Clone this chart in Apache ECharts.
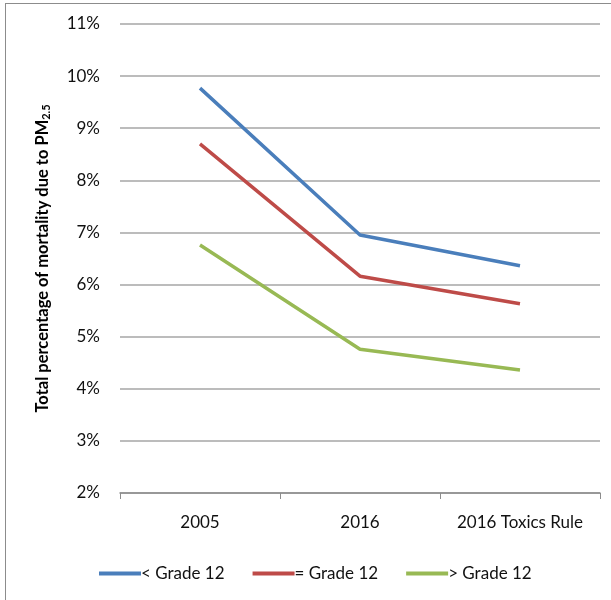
<!DOCTYPE html>
<html>
<head>
<meta charset="utf-8">
<script src="https://cdn.jsdelivr.net/npm/echarts@6/dist/echarts.min.js"></script>
<style>
  body { margin: 0; background: #fff; }
  #frame { position: absolute; left: 5px; top: 3px; width: 620px; height: 620px; border: 1px solid #8c8c8c; box-sizing: border-box; }
  #main { position: absolute; left: 0; top: 0; width: 611px; height: 600px; }
</style>
</head>
<body>
<div id="frame"></div>
<div id="main"></div>
<script>
  var categories = ['2005', '2016', '2016 Toxics Rule'];
  var belowGrade12 = [9.77, 6.95, 6.36];
  var equalGrade12 = [8.70, 6.16, 5.63];
  var aboveGrade12 = [6.76, 4.76, 4.36];
  var seriesNames = ['< Grade 12', '= Grade 12', '> Grade 12'];
  var colors = ['#4A7EBB', '#BE4B48', '#98B954'];

  var myChart = echarts.init(document.getElementById('main'));
  var font = 'Lato, "Open Sans", sans-serif';

  function lineSeries(name, data, color) {
    return {
      type: 'line',
      name: name,
      data: data,
      symbol: 'none',
      color: color,
      lineStyle: { width: 3.5, color: color }
    };
  }

  var option = {
    animation: false,
    textStyle: { fontFamily: font },
    grid: { left: 120, right: 11, top: 24, bottom: 107 },
    legend: {
      bottom: 13,
      left: 94,
      itemWidth: 42,
      itemHeight: 4,
      itemGap: 28,
      icon: 'rect',
      textStyle: { fontSize: 17, color: '#111', fontFamily: font, padding: [0, 0, 0, -5] },
      data: seriesNames
    },
    xAxis: {
      type: 'category',
      data: categories,
      boundaryGap: true,
      axisLine: { lineStyle: { color: '#8c8c8c', width: 1.5 } },
      axisTick: { show: true, length: 6, lineStyle: { color: '#8c8c8c' } },
      axisLabel: { interval: 0, fontSize: 17, color: '#111', margin: 21, fontFamily: font }
    },
    yAxis: {
      type: 'value',
      min: 2,
      max: 11,
      interval: 1,
      name: '{t|Total percentage of mortality due to PM}{s|2.5}',
      nameLocation: 'middle',
      nameRotate: 90,
      nameGap: 68,
      nameTextStyle: {
        rich: {
          t: { fontSize: 16.5, fontWeight: 'bold', color: '#000', fontFamily: font },
          s: { fontSize: 11, fontWeight: 'bold', color: '#000', fontFamily: font, padding: [8, 0, 0, 0] }
        }
      },
      axisLine: { show: false },
      axisTick: { show: false },
      axisLabel: { fontSize: 17, color: '#111', margin: 20, fontFamily: font, formatter: '{value}%' },
      splitLine: { lineStyle: { color: '#a6a6a6', width: 1.5 } }
    },
    series: [
      lineSeries(seriesNames[0], belowGrade12, colors[0]),
      lineSeries(seriesNames[1], equalGrade12, colors[1]),
      lineSeries(seriesNames[2], aboveGrade12, colors[2])
    ]
  };

  myChart.setOption(option);
</script>
</body>
</html>
